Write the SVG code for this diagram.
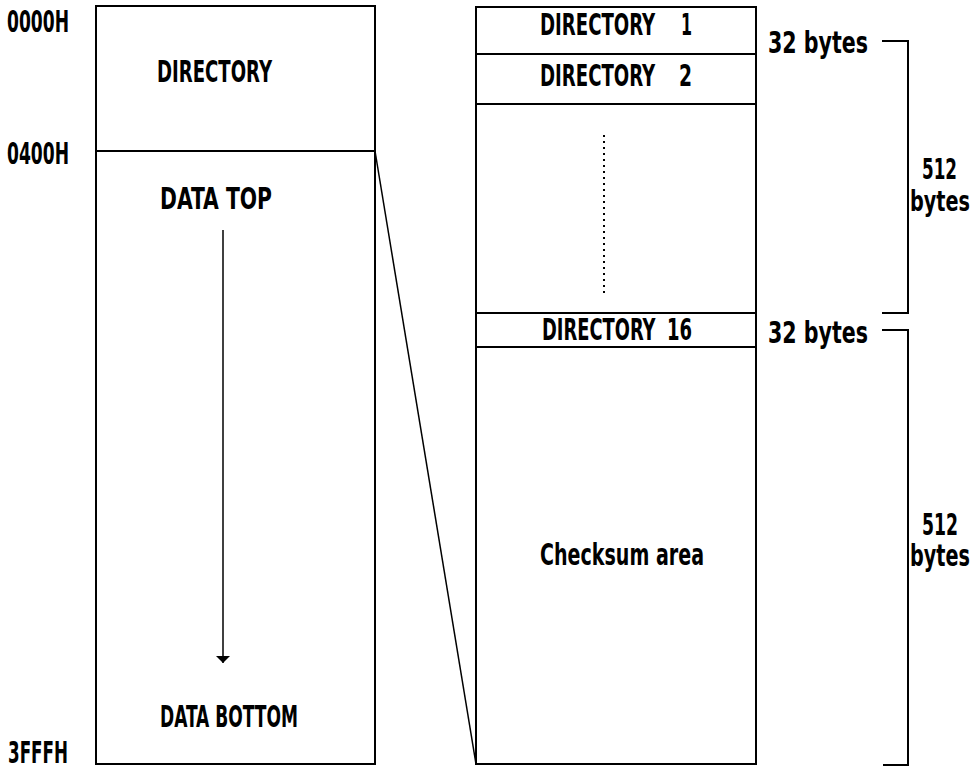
<svg xmlns="http://www.w3.org/2000/svg" width="977" height="776" viewBox="0 0 977 776">
  <style>
    .ln { fill: none; stroke: #000; stroke-width: 2; }
    .thin { fill: none; stroke: #000; stroke-width: 1.5; }
    .dot { fill: none; stroke: #000; stroke-width: 2; stroke-dasharray: 2 4; }
    text { font-family: "Liberation Sans Narrow", "DejaVu Sans Condensed", "Liberation Sans", sans-serif; font-weight: bold; font-size: 30px; fill: #000; }
    .sm { font-size: 28px; }
  </style>
  <defs>
    <marker id="ah" viewBox="0 0 7 14" refX="7" refY="7" markerWidth="7" markerHeight="14" markerUnits="userSpaceOnUse" orient="auto">
      <path d="M0,0 L7,7 L0,14 Z" fill="#000"/>
    </marker>
  </defs>

  <!-- address labels -->
  <g id="addresses">
    <text x="7" y="32" textLength="62" lengthAdjust="spacingAndGlyphs">0000H</text>
    <text x="7" y="164" textLength="62" lengthAdjust="spacingAndGlyphs">0400H</text>
    <text x="8" y="763" textLength="60" lengthAdjust="spacingAndGlyphs">3FFFH</text>
  </g>

  <!-- overall memory map -->
  <g id="memory-map">
    <rect class="ln" x="96" y="6" width="279" height="758"/>
    <line class="ln" x1="96" y1="151" x2="375" y2="151"/>
    <text x="157" y="82" textLength="115" lengthAdjust="spacingAndGlyphs">DIRECTORY</text>
    <text x="160" y="209" textLength="112" lengthAdjust="spacingAndGlyphs">DATA TOP</text>
    <text x="160" y="727" textLength="138" lengthAdjust="spacingAndGlyphs">DATA BOTTOM</text>
  </g>

  <!-- directory area detail -->
  <g id="directory-detail">
    <rect class="ln" x="476" y="7" width="280" height="757"/>
    <line class="ln" x1="476" y1="54" x2="756" y2="54"/>
    <line class="ln" x1="476" y1="104" x2="756" y2="104"/>
    <line class="ln" x1="476" y1="313" x2="756" y2="313"/>
    <line class="ln" x1="476" y1="347" x2="756" y2="347"/>
    <text transform="translate(540,35) scale(0.67,1)" textLength="172" lengthAdjust="spacingAndGlyphs">DIRECTORY</text>
    <text x="681" y="35" textLength="11" lengthAdjust="spacingAndGlyphs">1</text>
    <text transform="translate(540,86) scale(0.67,1)" textLength="172" lengthAdjust="spacingAndGlyphs">DIRECTORY</text>
    <text x="679" y="86" textLength="13" lengthAdjust="spacingAndGlyphs">2</text>
    <line class="dot" x1="604" y1="135" x2="604" y2="293"/>
    <text transform="translate(542,340) scale(0.66,1)" textLength="172" lengthAdjust="spacingAndGlyphs">DIRECTORY</text>
    <text x="667" y="340" textLength="25" lengthAdjust="spacingAndGlyphs">16</text>
    <text x="540" y="565" textLength="164" lengthAdjust="spacingAndGlyphs">Checksum area</text>
  </g>

  <!-- size annotations -->
  <g id="sizes">
    <text x="768" y="53" textLength="100" lengthAdjust="spacingAndGlyphs">32 bytes</text>
    <text x="768" y="343" textLength="100" lengthAdjust="spacingAndGlyphs">32 bytes</text>
    <text class="sm" x="922" y="179" textLength="35" lengthAdjust="spacingAndGlyphs">512</text>
    <text class="sm" transform="translate(910,211) scale(0.74,1)" textLength="81" lengthAdjust="spacingAndGlyphs">bytes</text>
    <text x="922" y="535" textLength="36" lengthAdjust="spacingAndGlyphs">512</text>
    <text transform="translate(910,566) scale(0.74,1)" textLength="81" lengthAdjust="spacingAndGlyphs">bytes</text>
  </g>

  <!-- connectors -->
  <g id="connectors">
    <line class="thin" x1="223" y1="230" x2="223" y2="663" marker-end="url(#ah)"/>
    <line class="thin" x1="375" y1="151" x2="476" y2="764"/>
    <polyline class="ln" points="882,41 908,41 908,313 882,313"/>
    <polyline class="ln" points="882,330 908,330 908,765 883,765"/>
  </g>
</svg>
